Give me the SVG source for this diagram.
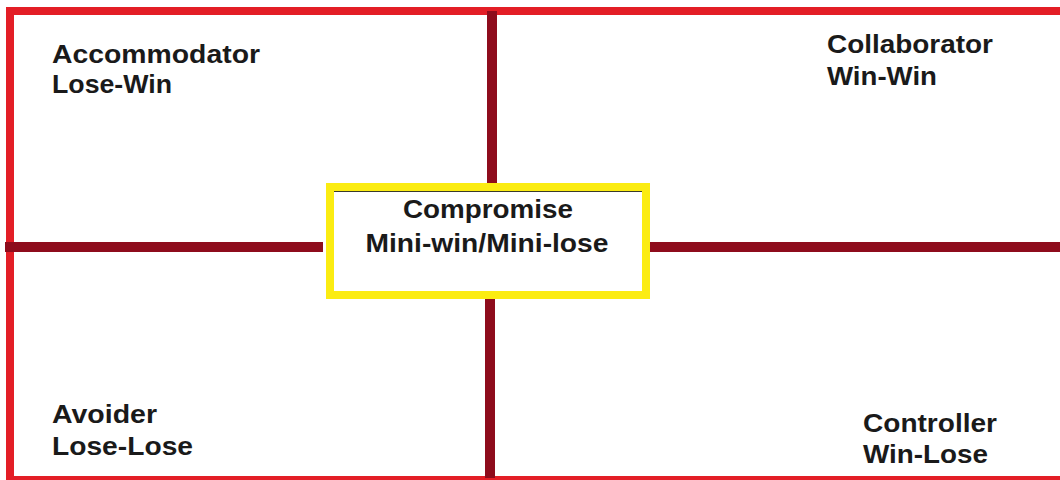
<svg xmlns="http://www.w3.org/2000/svg" width="1060" height="480" viewBox="0 0 1060 480">
  <style>
    .lbl { font-family: "Liberation Sans", Arial, sans-serif; font-weight: bold; font-size: 26px; fill: #1a1a1a; }
    .mid { text-anchor: middle; }
    .bar { stroke: #8e0c1c; stroke-width: 10; fill: none; }
    .frame { stroke: #e31e26; stroke-width: 8; fill: none; }
  </style>
  <rect width="1060" height="480" fill="#ffffff"/>
  <g id="frame">
    <rect class="frame" x="10" y="11" width="1060" height="469"/>
  </g>
  <g id="connectors">
    <line class="bar" x1="5" y1="247" x2="323" y2="247"/>
    <line class="bar" x1="643" y1="247" x2="1060" y2="247"/>
    <line class="bar" x1="492" y1="11" x2="492" y2="186"/>
    <line class="bar" x1="490" y1="296" x2="490" y2="478"/>
  </g>
  <g id="compromise">
    <rect x="330" y="187" width="316" height="108" fill="#ffffff" stroke="#fbec12" stroke-width="8"/>
    <line x1="334" y1="191.5" x2="642" y2="191.5" stroke="#3a3a2a" stroke-width="1"/>
    <text class="lbl mid" x="488" y="218" textLength="170" lengthAdjust="spacingAndGlyphs">Compromise</text>
    <text class="lbl mid" x="487" y="252" textLength="243" lengthAdjust="spacingAndGlyphs">Mini-win/Mini-lose</text>
  </g>
  <g id="accommodator">
    <text class="lbl" x="52" y="63" textLength="208" lengthAdjust="spacingAndGlyphs">Accommodator</text>
    <text class="lbl" x="52" y="93" textLength="120" lengthAdjust="spacingAndGlyphs">Lose-Win</text>
  </g>
  <g id="collaborator">
    <text class="lbl" x="827" y="53" textLength="166" lengthAdjust="spacingAndGlyphs">Collaborator</text>
    <text class="lbl" x="827" y="85" textLength="110" lengthAdjust="spacingAndGlyphs">Win-Win</text>
  </g>
  <g id="avoider">
    <text class="lbl" x="52" y="423" textLength="105" lengthAdjust="spacingAndGlyphs">Avoider</text>
    <text class="lbl" x="52" y="455" textLength="141" lengthAdjust="spacingAndGlyphs">Lose-Lose</text>
  </g>
  <g id="controller">
    <text class="lbl" x="863" y="432" textLength="134" lengthAdjust="spacingAndGlyphs">Controller</text>
    <text class="lbl" x="863" y="463" textLength="125" lengthAdjust="spacingAndGlyphs">Win-Lose</text>
  </g>
</svg>
